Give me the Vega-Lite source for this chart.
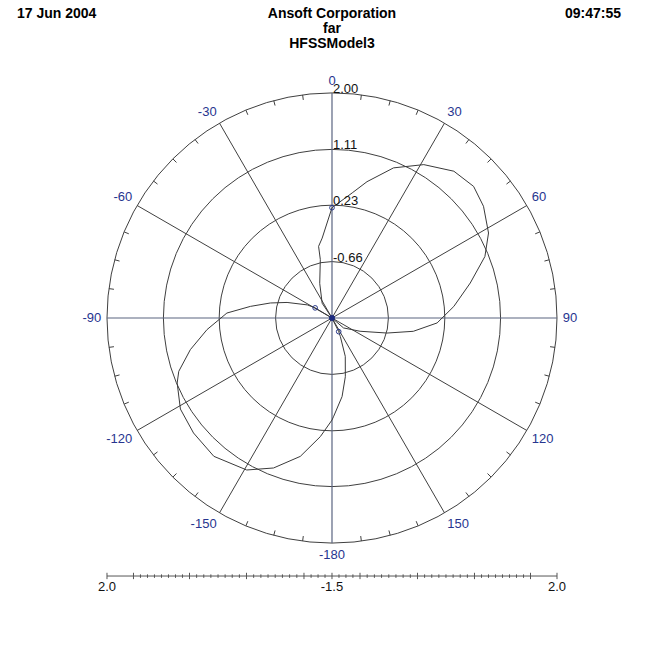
{
  "$schema": "https://vega.github.io/schema/vega-lite/v6.json",
  "width": 651,
  "height": 646,
  "autosize": {"type": "fit", "contains": "padding"},
  "padding": 0,
  "background": "white",
  "config": {
    "view": {"stroke": null},
    "font": "Liberation Sans",
    "locale": {"number": {"decimal": ".", "thousands": ",", "grouping": [3], "currency": ["$", ""], "minus": "-"}}
  },
  "datasets": {
    "curve": [
      {"theta": -180, "mag": 0.06}, {"theta": -174.4, "mag": 0.33}, {"theta": -167.1, "mag": 0.69},
      {"theta": -158.7, "mag": 0.99}, {"theta": -150.7, "mag": 1.2}, {"theta": -139.5, "mag": 1.32},
      {"theta": -129.7, "mag": 1.29}, {"theta": -121.0, "mag": 1.24}, {"theta": -112.8, "mag": 1.1},
      {"theta": -109.2, "mag": 1.01}, {"theta": -102.6, "mag": 0.74}, {"theta": -95.3, "mag": 0.43},
      {"theta": -87.3, "mag": 0.11}, {"theta": -81.9, "mag": -0.25}, {"theta": -76.3, "mag": -0.55},
      {"theta": -70.9, "mag": -0.8}, {"theta": -62.0, "mag": -1.11}, {"theta": -59.0, "mag": -1.24},
      {"theta": -46.0, "mag": -1.55}, {"theta": -33.7, "mag": -1.27}, {"theta": -19.5, "mag": -0.97},
      {"theta": -11.3, "mag": -0.61}, {"theta": -10.6, "mag": -0.4}, {"theta": -7.0, "mag": -0.28},
      {"theta": 0, "mag": 0.19}, {"theta": 9.2, "mag": 0.45}, {"theta": 14.4, "mag": 0.67},
      {"theta": 22.3, "mag": 1.01}, {"theta": 30.9, "mag": 1.27}, {"theta": 39.7, "mag": 1.46},
      {"theta": 47.1, "mag": 1.5}, {"theta": 53.6, "mag": 1.42}, {"theta": 61.5, "mag": 1.26},
      {"theta": 68.1, "mag": 1.05}, {"theta": 75.8, "mag": 0.7}, {"theta": 84.6, "mag": 0.38},
      {"theta": 92.7, "mag": 0.11}, {"theta": 99.3, "mag": -0.25}, {"theta": 105.3, "mag": -0.65},
      {"theta": 115.3, "mag": -1.06}, {"theta": 130.8, "mag": -1.31}, {"theta": 142.0, "mag": -1.55},
      {"theta": 153.8, "mag": -1.31}, {"theta": 155.7, "mag": -1.23}, {"theta": 160.9, "mag": -0.91},
      {"theta": 167.2, "mag": -0.6}, {"theta": 172.7, "mag": -0.3}, {"theta": 179.0, "mag": 0.0},
      {"theta": 180, "mag": 0.06}
    ],
    "markers": [
      {"theta": 0, "mag": 0.19}, {"theta": -59.0, "mag": -1.24}, {"theta": 153.8, "mag": -1.31}
    ],
    "rings": [{"mag": -0.66}, {"mag": 0.23}, {"mag": 1.11}, {"mag": 2.0}],
    "spokes": [
      {"theta": 30}, {"theta": 60}, {"theta": 120}, {"theta": 150},
      {"theta": -30}, {"theta": -60}, {"theta": -120}, {"theta": -150}
    ],
    "axes": [{"theta": 0}, {"theta": 90}, {"theta": 180}, {"theta": -90}],
    "anglelabels": [
      {"theta": 0}, {"theta": 30}, {"theta": 60}, {"theta": 90}, {"theta": 120}, {"theta": 150},
      {"theta": -180}, {"theta": -150}, {"theta": -120}, {"theta": -90}, {"theta": -60}, {"theta": -30}
    ],
    "ticks": [
      {"theta": 7.5}, {"theta": 15}, {"theta": 22.5}, {"theta": 37.5}, {"theta": 45}, {"theta": 52.5},
      {"theta": 67.5}, {"theta": 75}, {"theta": 82.5}, {"theta": 97.5}, {"theta": 105}, {"theta": 112.5},
      {"theta": 127.5}, {"theta": 135}, {"theta": 142.5}, {"theta": 157.5}, {"theta": 165}, {"theta": 172.5},
      {"theta": -7.5}, {"theta": -15}, {"theta": -22.5}, {"theta": -37.5}, {"theta": -45}, {"theta": -52.5},
      {"theta": -67.5}, {"theta": -75}, {"theta": -82.5}, {"theta": -97.5}, {"theta": -105}, {"theta": -112.5},
      {"theta": -127.5}, {"theta": -135}, {"theta": -142.5}, {"theta": -157.5}, {"theta": -165}, {"theta": -172.5}
    ],
    "barmajor": [
      {"pos": -3.55}, {"pos": -3.132}, {"pos": -2.248}, {"pos": -1.349}, {"pos": -0.442}, {"pos": 0},
      {"pos": 0.442}, {"pos": 1.349}, {"pos": 2.248}, {"pos": 3.132}, {"pos": 3.55}
    ],
    "barminor": [
      {"pos": 0.11}, {"pos": 0.22}, {"pos": 0.33}, {"pos": 0.555}, {"pos": 0.669}, {"pos": 0.782},
      {"pos": 0.896}, {"pos": 1.009}, {"pos": 1.122}, {"pos": 1.236}, {"pos": 1.461}, {"pos": 1.574},
      {"pos": 1.686}, {"pos": 1.798}, {"pos": 1.911}, {"pos": 2.023}, {"pos": 2.136}, {"pos": 2.359},
      {"pos": 2.469}, {"pos": 2.58}, {"pos": 2.69}, {"pos": 2.801}, {"pos": 2.911}, {"pos": 3.022},
      {"pos": -0.11}, {"pos": -0.22}, {"pos": -0.33}, {"pos": -0.555}, {"pos": -0.669}, {"pos": -0.782},
      {"pos": -0.896}, {"pos": -1.009}, {"pos": -1.122}, {"pos": -1.236}, {"pos": -1.461}, {"pos": -1.574},
      {"pos": -1.686}, {"pos": -1.798}, {"pos": -1.911}, {"pos": -2.023}, {"pos": -2.136}, {"pos": -2.359},
      {"pos": -2.469}, {"pos": -2.58}, {"pos": -2.69}, {"pos": -2.801}, {"pos": -2.911}, {"pos": -3.022}
    ],
    "barlabels": [{"pos": -3.55, "label": "2.0"}, {"pos": 0, "label": "-1.5"}, {"pos": 3.55, "label": "2.0"}],
    "header": [{"label": "Ansoft Corporation", "line": 1}, {"label": "far", "line": 2}, {"label": "HFSSModel3", "line": 3}]
  },
  "layer": [
    {
      "data": {"name": "rings"},
      "transform": [
        {"calculate": "0", "as": "cx"},
        {"calculate": "pow(2 * (datum.mag + 1.55) * 63.38, 2)", "as": "area"}
      ],
      "mark": {"type": "point", "shape": "circle", "filled": false, "stroke": "#404040", "strokeWidth": 1, "opacity": 1},
      "encoding": {
        "x": {"field": "cx", "type": "quantitative", "scale": {"domain": [-5.238, 5.033], "nice": false, "zero": false}, "axis": null},
        "y": {"field": "cx", "type": "quantitative", "scale": {"domain": [-5.175, 5.017], "nice": false, "zero": false}, "axis": null},
        "size": {"field": "area", "type": "quantitative", "scale": null, "legend": null}
      }
    },
    {
      "data": {"name": "spokes"},
      "transform": [
        {"calculate": "0", "as": "cx"},
        {"calculate": "3.55 * sin(datum.theta * PI / 180)", "as": "ex"},
        {"calculate": "3.55 * cos(datum.theta * PI / 180)", "as": "ey"}
      ],
      "mark": {"type": "rule", "stroke": "#404040", "strokeWidth": 1},
      "encoding": {
        "x": {"field": "cx", "type": "quantitative", "scale": {"domain": [-5.238, 5.033], "nice": false, "zero": false}, "axis": null},
        "y": {"field": "cx", "type": "quantitative", "scale": {"domain": [-5.175, 5.017], "nice": false, "zero": false}, "axis": null},
        "x2": {"field": "ex"},
        "y2": {"field": "ey"}
      }
    },
    {
      "data": {"name": "axes"},
      "transform": [
        {"calculate": "0", "as": "cx"},
        {"calculate": "3.55 * sin(datum.theta * PI / 180)", "as": "ex"},
        {"calculate": "3.55 * cos(datum.theta * PI / 180)", "as": "ey"}
      ],
      "mark": {"type": "rule", "stroke": "#5a6480", "strokeWidth": 1.2},
      "encoding": {
        "x": {"field": "cx", "type": "quantitative", "scale": {"domain": [-5.238, 5.033], "nice": false, "zero": false}, "axis": null},
        "y": {"field": "cx", "type": "quantitative", "scale": {"domain": [-5.175, 5.017], "nice": false, "zero": false}, "axis": null},
        "x2": {"field": "ex"},
        "y2": {"field": "ey"}
      }
    },
    {
      "data": {"name": "ticks"},
      "transform": [
        {"calculate": "3.55 * sin(datum.theta * PI / 180)", "as": "ox"},
        {"calculate": "3.55 * cos(datum.theta * PI / 180)", "as": "oy"},
        {"calculate": "3.47 * sin(datum.theta * PI / 180)", "as": "ix"},
        {"calculate": "3.47 * cos(datum.theta * PI / 180)", "as": "iy"}
      ],
      "mark": {"type": "rule", "stroke": "#404040", "strokeWidth": 1},
      "encoding": {
        "x": {"field": "ox", "type": "quantitative", "scale": {"domain": [-5.238, 5.033], "nice": false, "zero": false}, "axis": null},
        "y": {"field": "oy", "type": "quantitative", "scale": {"domain": [-5.175, 5.017], "nice": false, "zero": false}, "axis": null},
        "x2": {"field": "ix"},
        "y2": {"field": "iy"}
      }
    },
    {
      "data": {"name": "curve"},
      "transform": [
        {"calculate": "(datum.mag + 1.55) * sin(datum.theta * PI / 180)", "as": "px"},
        {"calculate": "(datum.mag + 1.55) * cos(datum.theta * PI / 180)", "as": "py"}
      ],
      "mark": {"type": "line", "stroke": "#3a3a3a", "strokeWidth": 1},
      "encoding": {
        "x": {"field": "px", "type": "quantitative", "scale": {"domain": [-5.238, 5.033], "nice": false, "zero": false}, "axis": null},
        "y": {"field": "py", "type": "quantitative", "scale": {"domain": [-5.175, 5.017], "nice": false, "zero": false}, "axis": null},
        "order": {"field": "theta", "type": "quantitative"}
      }
    },
    {
      "data": {"name": "curve"},
      "transform": [
        {"filter": "datum.mag <= -1.55"},
        {"calculate": "(datum.mag + 1.55) * sin(datum.theta * PI / 180)", "as": "px"},
        {"calculate": "(datum.mag + 1.55) * cos(datum.theta * PI / 180)", "as": "py"}
      ],
      "mark": {"type": "point", "shape": "circle", "filled": true, "color": "#1c2a80", "size": 30, "opacity": 1},
      "encoding": {
        "x": {"field": "px", "type": "quantitative", "scale": {"domain": [-5.238, 5.033], "nice": false, "zero": false}, "axis": null},
        "y": {"field": "py", "type": "quantitative", "scale": {"domain": [-5.175, 5.017], "nice": false, "zero": false}, "axis": null}
      }
    },
    {
      "data": {"name": "markers"},
      "transform": [
        {"calculate": "(datum.mag + 1.55) * sin(datum.theta * PI / 180)", "as": "px"},
        {"calculate": "(datum.mag + 1.55) * cos(datum.theta * PI / 180)", "as": "py"}
      ],
      "mark": {"type": "point", "shape": "circle", "filled": false, "stroke": "#2a3a8c", "strokeWidth": 1, "size": 22, "opacity": 1},
      "encoding": {
        "x": {"field": "px", "type": "quantitative", "scale": {"domain": [-5.238, 5.033], "nice": false, "zero": false}, "axis": null},
        "y": {"field": "py", "type": "quantitative", "scale": {"domain": [-5.175, 5.017], "nice": false, "zero": false}, "axis": null}
      }
    },
    {
      "data": {"name": "rings"},
      "transform": [
        {"calculate": "0", "as": "cx"},
        {"calculate": "datum.mag + 1.55", "as": "ry"}
      ],
      "mark": {"type": "text", "align": "left", "baseline": "alphabetic", "dx": 1, "fontSize": 13, "color": "#111111"},
      "encoding": {
        "x": {"field": "cx", "type": "quantitative", "scale": {"domain": [-5.238, 5.033], "nice": false, "zero": false}, "axis": null},
        "y": {"field": "ry", "type": "quantitative", "scale": {"domain": [-5.175, 5.017], "nice": false, "zero": false}, "axis": null},
        "text": {"field": "mag", "type": "quantitative", "format": ".2f"}
      }
    },
    {
      "data": {"name": "anglelabels"},
      "transform": [
        {"filter": "datum.theta > 0 && datum.theta < 180"},
        {"calculate": "'' + datum.theta", "as": "lab"},
        {"calculate": "3.64 * sin(datum.theta * PI / 180)", "as": "lx"},
        {"calculate": "3.64 * cos(datum.theta * PI / 180) + (cos(datum.theta * PI / 180) > 0.01 ? 0.095 : (cos(datum.theta * PI / 180) < -0.01 ? -0.095 : 0))", "as": "ly"}
      ],
      "mark": {"type": "text", "align": "left", "baseline": "middle", "fontSize": 13, "color": "#27358f"},
      "encoding": {
        "x": {"field": "lx", "type": "quantitative", "scale": {"domain": [-5.238, 5.033], "nice": false, "zero": false}, "axis": null},
        "y": {"field": "ly", "type": "quantitative", "scale": {"domain": [-5.175, 5.017], "nice": false, "zero": false}, "axis": null},
        "text": {"field": "lab", "type": "nominal"}
      }
    },
    {
      "data": {"name": "anglelabels"},
      "transform": [
        {"filter": "datum.theta < 0 && datum.theta > -180"},
        {"calculate": "'' + datum.theta", "as": "lab"},
        {"calculate": "3.64 * sin(datum.theta * PI / 180)", "as": "lx"},
        {"calculate": "3.64 * cos(datum.theta * PI / 180) + (cos(datum.theta * PI / 180) > 0.01 ? 0.095 : (cos(datum.theta * PI / 180) < -0.01 ? -0.095 : 0))", "as": "ly"}
      ],
      "mark": {"type": "text", "align": "right", "baseline": "middle", "fontSize": 13, "color": "#27358f"},
      "encoding": {
        "x": {"field": "lx", "type": "quantitative", "scale": {"domain": [-5.238, 5.033], "nice": false, "zero": false}, "axis": null},
        "y": {"field": "ly", "type": "quantitative", "scale": {"domain": [-5.175, 5.017], "nice": false, "zero": false}, "axis": null},
        "text": {"field": "lab", "type": "nominal"}
      }
    },
    {
      "data": {"name": "anglelabels"},
      "transform": [
        {"filter": "datum.theta == 0 || datum.theta == -180"},
        {"calculate": "'' + datum.theta", "as": "lab"},
        {"calculate": "0", "as": "lx"},
        {"calculate": "3.64 * cos(datum.theta * PI / 180) + (cos(datum.theta * PI / 180) > 0 ? 0.095 : -0.095)", "as": "ly"}
      ],
      "mark": {"type": "text", "align": "center", "baseline": "middle", "fontSize": 13, "color": "#27358f"},
      "encoding": {
        "x": {"field": "lx", "type": "quantitative", "scale": {"domain": [-5.238, 5.033], "nice": false, "zero": false}, "axis": null},
        "y": {"field": "ly", "type": "quantitative", "scale": {"domain": [-5.175, 5.017], "nice": false, "zero": false}, "axis": null},
        "text": {"field": "lab", "type": "nominal"}
      }
    },
    {
      "data": {"values": [{"a": -3.55, "b": 3.55}]},
      "transform": [{"calculate": "-4.071", "as": "by"}],
      "mark": {"type": "rule", "stroke": "#555555", "strokeWidth": 1},
      "encoding": {
        "x": {"field": "a", "type": "quantitative", "scale": {"domain": [-5.238, 5.033], "nice": false, "zero": false}, "axis": null},
        "x2": {"field": "b"},
        "y": {"field": "by", "type": "quantitative", "scale": {"domain": [-5.175, 5.017], "nice": false, "zero": false}, "axis": null}
      }
    },
    {
      "data": {"name": "barmajor"},
      "transform": [{"calculate": "-4.02", "as": "t1"}, {"calculate": "-4.12", "as": "t2"}],
      "mark": {"type": "rule", "stroke": "#555555", "strokeWidth": 1},
      "encoding": {
        "x": {"field": "pos", "type": "quantitative", "scale": {"domain": [-5.238, 5.033], "nice": false, "zero": false}, "axis": null},
        "y": {"field": "t1", "type": "quantitative", "scale": {"domain": [-5.175, 5.017], "nice": false, "zero": false}, "axis": null},
        "y2": {"field": "t2"}
      }
    },
    {
      "data": {"name": "barminor"},
      "transform": [{"calculate": "-4.045", "as": "t1"}, {"calculate": "-4.1", "as": "t2"}],
      "mark": {"type": "rule", "stroke": "#555555", "strokeWidth": 1},
      "encoding": {
        "x": {"field": "pos", "type": "quantitative", "scale": {"domain": [-5.238, 5.033], "nice": false, "zero": false}, "axis": null},
        "y": {"field": "t1", "type": "quantitative", "scale": {"domain": [-5.175, 5.017], "nice": false, "zero": false}, "axis": null},
        "y2": {"field": "t2"}
      }
    },
    {
      "data": {"name": "barlabels"},
      "transform": [{"calculate": "-4.24", "as": "ly"}],
      "mark": {"type": "text", "align": "center", "baseline": "middle", "fontSize": 13, "color": "#111111"},
      "encoding": {
        "x": {"field": "pos", "type": "quantitative", "scale": {"domain": [-5.238, 5.033], "nice": false, "zero": false}, "axis": null},
        "y": {"field": "ly", "type": "quantitative", "scale": {"domain": [-5.175, 5.017], "nice": false, "zero": false}, "axis": null},
        "text": {"field": "label", "type": "nominal"}
      }
    },
    {
      "data": {"name": "header"},
      "transform": [
        {"calculate": "0", "as": "hx"},
        {"calculate": "4.8 - (datum.line - 1) * 0.237", "as": "hy"}
      ],
      "mark": {"type": "text", "align": "center", "baseline": "middle", "fontSize": 14, "fontWeight": "bold", "color": "#000000"},
      "encoding": {
        "x": {"field": "hx", "type": "quantitative", "scale": {"domain": [-5.238, 5.033], "nice": false, "zero": false}, "axis": null},
        "y": {"field": "hy", "type": "quantitative", "scale": {"domain": [-5.175, 5.017], "nice": false, "zero": false}, "axis": null},
        "text": {"field": "label", "type": "nominal"}
      }
    },
    {
      "data": {"values": [{"label": "17 Jun 2004"}]},
      "transform": [{"calculate": "-4.97", "as": "hx"}, {"calculate": "4.8", "as": "hy"}],
      "mark": {"type": "text", "align": "left", "baseline": "middle", "fontSize": 14, "fontWeight": "bold", "color": "#000000"},
      "encoding": {
        "x": {"field": "hx", "type": "quantitative", "scale": {"domain": [-5.238, 5.033], "nice": false, "zero": false}, "axis": null},
        "y": {"field": "hy", "type": "quantitative", "scale": {"domain": [-5.175, 5.017], "nice": false, "zero": false}, "axis": null},
        "text": {"field": "label", "type": "nominal"}
      }
    },
    {
      "data": {"values": [{"label": "09:47:55"}]},
      "transform": [{"calculate": "4.56", "as": "hx"}, {"calculate": "4.8", "as": "hy"}],
      "mark": {"type": "text", "align": "right", "baseline": "middle", "fontSize": 14, "fontWeight": "bold", "color": "#000000"},
      "encoding": {
        "x": {"field": "hx", "type": "quantitative", "scale": {"domain": [-5.238, 5.033], "nice": false, "zero": false}, "axis": null},
        "y": {"field": "hy", "type": "quantitative", "scale": {"domain": [-5.175, 5.017], "nice": false, "zero": false}, "axis": null},
        "text": {"field": "label", "type": "nominal"}
      }
    }
  ]
}
